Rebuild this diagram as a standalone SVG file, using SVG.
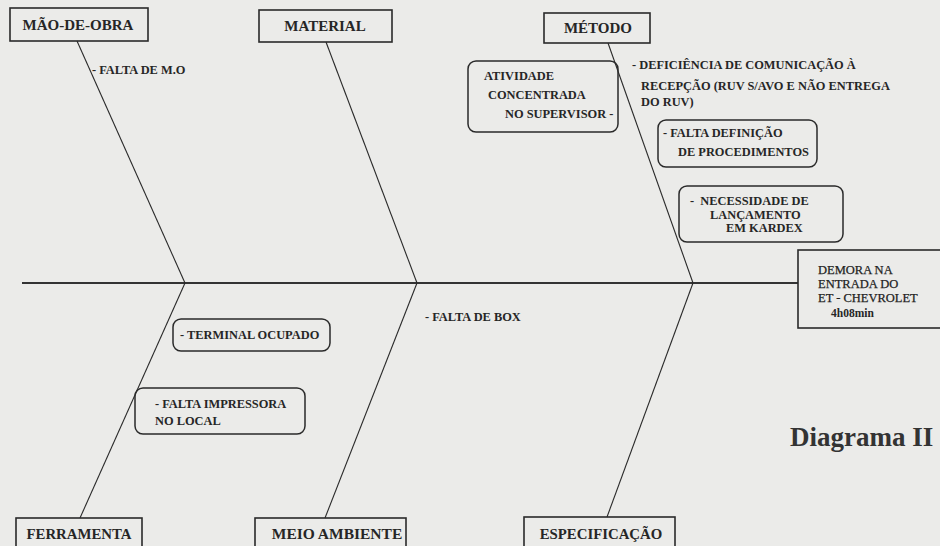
<svg xmlns="http://www.w3.org/2000/svg" width="940" height="546" viewBox="0 0 940 546">
<style>
.bg{fill:#ebebe9}
.box{fill:none;stroke:#2a2a2a;stroke-width:1.6}
.rbox{fill:none;stroke:#2a2a2a;stroke-width:1.5}
.ln{stroke:#2a2a2a;stroke-width:1.1;fill:none}
.spine{stroke:#333;stroke-width:1.8;fill:none}
text{font-family:"Liberation Serif","Times New Roman",serif;font-weight:bold;fill:#262626}
.h{font-size:15px}
.hb{font-size:14.8px}
.s{font-size:12.4px}
.r{font-size:12.5px;font-weight:normal;fill:#1e1e1e;stroke:#1e1e1e;stroke-width:0.25}
.big{font-size:27px;fill:#333}
</style>
<rect class="bg" x="0" y="0" width="940" height="546"/>
<g id="connectors">
<line class="spine" x1="22" y1="283" x2="798" y2="283"/>
<line class="ln" x1="77" y1="41" x2="185" y2="283"/>
<line class="ln" x1="326" y1="42" x2="417" y2="283"/>
<line class="ln" x1="608" y1="43" x2="693" y2="283"/>
<line class="ln" x1="185" y1="283" x2="80" y2="518"/>
<line class="ln" x1="417" y1="283" x2="325" y2="518"/>
<line class="ln" x1="693" y1="283" x2="607" y2="517"/>
</g>
<g id="mao-de-obra">
<rect class="box" x="10" y="8" width="138" height="33"/>
<text class="h" x="78" y="30" text-anchor="middle">MÃO-DE-OBRA</text>
</g>
<g id="material">
<rect class="box" x="259" y="10" width="133" height="32"/>
<text class="h" x="325" y="31" text-anchor="middle">MATERIAL</text>
</g>
<g id="metodo">
<rect class="box" x="544" y="13" width="106" height="30"/>
<text class="h" x="598" y="33" text-anchor="middle">MÉTODO</text>
</g>
<g id="falta-mo">
<text class="s" x="92" y="74">- FALTA DE M.O</text>
</g>
<g id="atividade">
<rect class="rbox" x="468" y="61" width="150" height="71" rx="8"/>
<text class="s" x="484" y="80">ATIVIDADE</text>
<text class="s" x="488" y="99">CONCENTRADA</text>
<text class="s" x="505" y="118">NO SUPERVISOR -</text>
</g>
<g id="deficiencia">
<text class="s" x="632" y="69">- DEFICIÊNCIA DE COMUNICAÇÃO À</text>
<text class="s" x="641" y="90">RECEPÇÃO (RUV S/AVO E NÃO ENTREGA</text>
<text class="s" x="641" y="106">DO RUV)</text>
</g>
<g id="falta-definicao">
<rect class="rbox" x="658" y="120" width="159" height="47" rx="8"/>
<text class="s" x="663" y="137">- FALTA DEFINIÇÃO</text>
<text class="s" x="678" y="156">DE PROCEDIMENTOS</text>
</g>
<g id="necessidade">
<rect class="rbox" x="679" y="186" width="164" height="56" rx="8"/>
<text class="s" x="690" y="205" xml:space="preserve">-  NECESSIDADE DE</text>
<text class="s" x="710" y="219">LANÇAMENTO</text>
<text class="s" x="726" y="232">EM KARDEX</text>
</g>
<g id="demora">
<rect class="box" x="798" y="250" width="150" height="78"/>
<text class="r" x="818" y="274">DEMORA NA</text>
<text class="r" x="818" y="288">ENTRADA DO</text>
<text class="r" x="818" y="302">ET - CHEVROLET</text>
<text class="s" x="831" y="317" style="font-size:11.5px">4h08min</text>
</g>
<g id="falta-box">
<text class="s" x="425" y="321">- FALTA DE BOX</text>
</g>
<g id="terminal">
<rect class="rbox" x="173" y="319" width="157" height="32" rx="8"/>
<text class="s" x="180" y="339">- TERMINAL OCUPADO</text>
</g>
<g id="falta-impressora">
<rect class="rbox" x="135" y="388" width="170" height="46" rx="8"/>
<text class="s" x="155" y="408">- FALTA IMPRESSORA</text>
<text class="s" x="155" y="425">NO LOCAL</text>
</g>
<g id="diagrama">
<text class="big" x="790" y="446">Diagrama II</text>
</g>
<g id="ferramenta">
<rect class="box" x="16" y="518" width="126" height="40"/>
<text class="hb" x="79" y="539" text-anchor="middle">FERRAMENTA</text>
</g>
<g id="meio-ambiente">
<rect class="box" x="255" y="518" width="151" height="40"/>
<text class="hb" x="337" y="539" text-anchor="middle" style="font-size:15.5px">MEIO AMBIENTE</text>
</g>
<g id="especificacao">
<rect class="box" x="524" y="517" width="151" height="40"/>
<text class="hb" x="601" y="539" text-anchor="middle">ESPECIFICAÇÃO</text>
</g>
</svg>
